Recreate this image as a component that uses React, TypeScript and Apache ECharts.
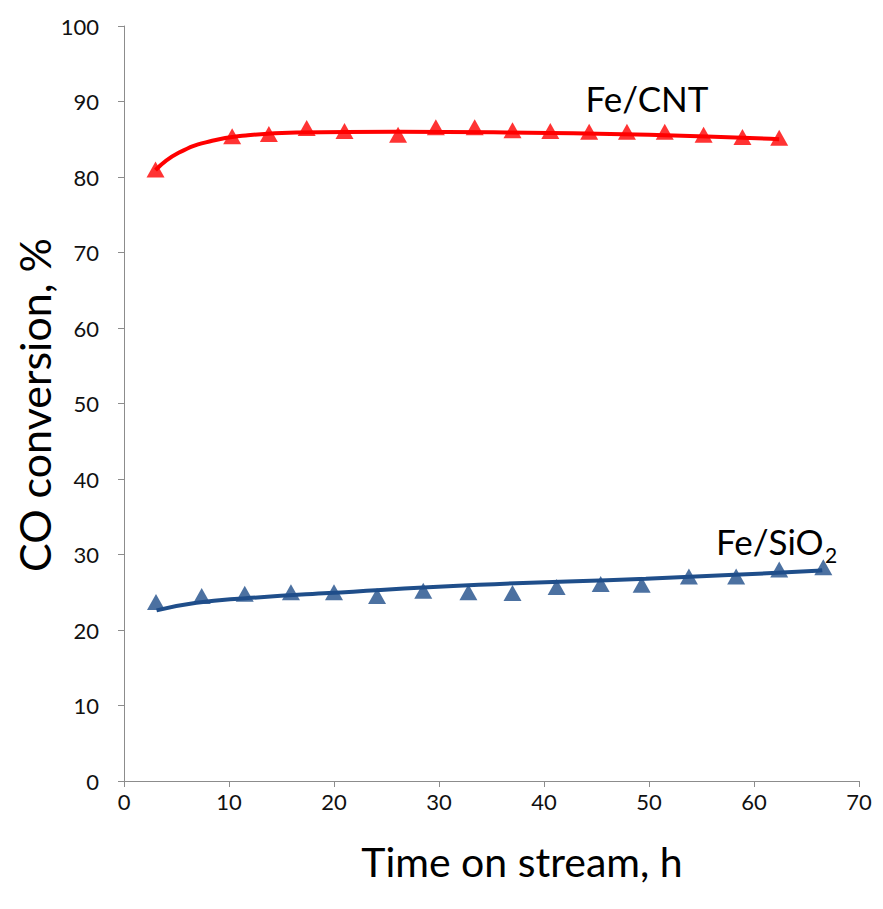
import React, { useEffect, useRef } from "react";
import * as echarts from "echarts";

// Fe/CNT measured points
const cntTime = [3.0, 10.3, 13.8, 17.4, 21.0, 26.1, 29.7, 33.4, 37.0, 40.6, 44.3, 47.9, 51.5, 55.2, 58.9, 62.4];
const cntConv = [81.0, 85.4, 85.7, 86.5, 86.1, 85.6, 86.6, 86.6, 86.2, 86.1, 86.0, 86.0, 86.0, 85.6, 85.3, 85.2];
// Fe/CNT trend line
const cntTrendTime = [3.0, 5.2, 8.4, 11.6, 16.4, 25.9, 36.7, 50.0, 62.4];
const cntTrendConv = [80.9, 83.2, 84.8, 85.5, 85.9, 86.0, 85.9, 85.6, 85.0];

// Fe/SiO2 measured points
const sioTime = [3.05, 7.4, 11.5, 15.9, 20.0, 24.1, 28.5, 32.8, 37.0, 41.2, 45.4, 49.3, 53.8, 58.3, 62.4, 66.6];
const sioConv = [23.7, 24.5, 24.8, 25.0, 25.0, 24.5, 25.2, 25.0, 24.9, 25.7, 26.1, 26.0, 27.1, 27.1, 28.0, 28.3];
// Fe/SiO2 trend line
const sioTrendTime = [3.1, 6.9, 11.6, 19.5, 33.8, 49.7, 65.5, 66.5];
const sioTrendConv = [22.6, 23.6, 24.2, 24.9, 26.0, 26.8, 27.8, 27.9];

const xTicks = [0, 70, 10];
const yTicks = [0, 100, 10];

const xTitle = "Time on stream, h";
const yTitle = "CO conversion, %";
const cntLabel = "Fe/CNT";
const sioLabel = "Fe/SiO";
const sioSub = "2";

const RED = "#FF0000";
const BLUE = "#1F4E8A";
const FONT = "Lato, 'Open Sans', sans-serif";

const pairs = (xs: number[], ys: number[]) => xs.map((x, i) => [x, ys[i]]);

export default function App() {
  const ref = useRef<HTMLDivElement>(null);
  useEffect(() => {
    if (!ref.current) return;
    const chart = echarts.init(ref.current, undefined, { renderer: "svg" });
    chart.setOption({
      animation: false,
      backgroundColor: "#ffffff",
      grid: { left: 124, right: 24, top: 26, bottom: 128 },
      xAxis: {
        type: "value",
        min: xTicks[0],
        max: xTicks[1],
        interval: xTicks[2],
        axisLine: { show: true, lineStyle: { color: "#8c8c8c", width: 1 } },
        axisTick: { show: true, length: 6, lineStyle: { color: "#8c8c8c" } },
        axisLabel: { fontSize: 22, color: "#111", fontFamily: FONT, margin: 9 },
        splitLine: { show: false },
      },
      yAxis: {
        type: "value",
        min: yTicks[0],
        max: yTicks[1],
        interval: yTicks[2],
        axisLine: { show: true, lineStyle: { color: "#8c8c8c", width: 1 } },
        axisTick: { show: true, length: 6, lineStyle: { color: "#8c8c8c" } },
        axisLabel: { fontSize: 22, color: "#111", fontFamily: FONT, margin: 25 },
        splitLine: { show: false },
      },
      series: [
        {
          type: "line",
          data: pairs(cntTrendTime, cntTrendConv),
          smooth: 0.5,
          showSymbol: false,
          lineStyle: { color: RED, width: 4 },
          z: 2,
        },
        {
          type: "scatter",
          data: pairs(cntTime, cntConv),
          symbol: "triangle",
          symbolSize: [18, 16],
          itemStyle: { color: RED },
          z: 3,
        },
        {
          type: "line",
          data: pairs(sioTrendTime, sioTrendConv),
          smooth: 0.5,
          showSymbol: false,
          lineStyle: { color: BLUE, width: 4 },
          z: 2,
        },
        {
          type: "scatter",
          data: pairs(sioTime, sioConv),
          symbol: "triangle",
          symbolSize: [18, 16],
          itemStyle: { color: BLUE },
          z: 3,
        },
      ],
      graphic: [
        {
          type: "text",
          x: 522,
          y: 861,
          style: {
            text: xTitle,
            fontSize: 41,
            fill: "#000",
            fontFamily: FONT,
            align: "center",
            verticalAlign: "middle",
          },
        },
        {
          type: "text",
          x: 34,
          y: 405,
          rotation: Math.PI / 2,
          style: {
            text: yTitle,
            fontSize: 43,
            fill: "#000",
            fontFamily: FONT,
            align: "center",
            verticalAlign: "middle",
          },
        },
        {
          type: "text",
          x: 647,
          y: 98,
          style: {
            text: cntLabel,
            fontSize: 35,
            fill: "#000",
            fontFamily: FONT,
            align: "center",
            verticalAlign: "middle",
          },
        },
        {
          type: "text",
          x: 716,
          y: 541,
          style: {
            text: sioLabel,
            fontSize: 35,
            fill: "#000",
            fontFamily: FONT,
            align: "left",
            verticalAlign: "middle",
          },
        },
        {
          type: "text",
          x: 825,
          y: 554,
          style: {
            text: sioSub,
            fontSize: 21,
            fill: "#000",
            fontFamily: FONT,
            align: "left",
            verticalAlign: "middle",
          },
        },
      ],
    });
    return () => chart.dispose();
  }, []);
  return (
    <div
      ref={ref}
      style={{ position: "fixed", left: 0, top: 0, width: 883, height: 909, background: "#fff" }}
    />
  );
}
